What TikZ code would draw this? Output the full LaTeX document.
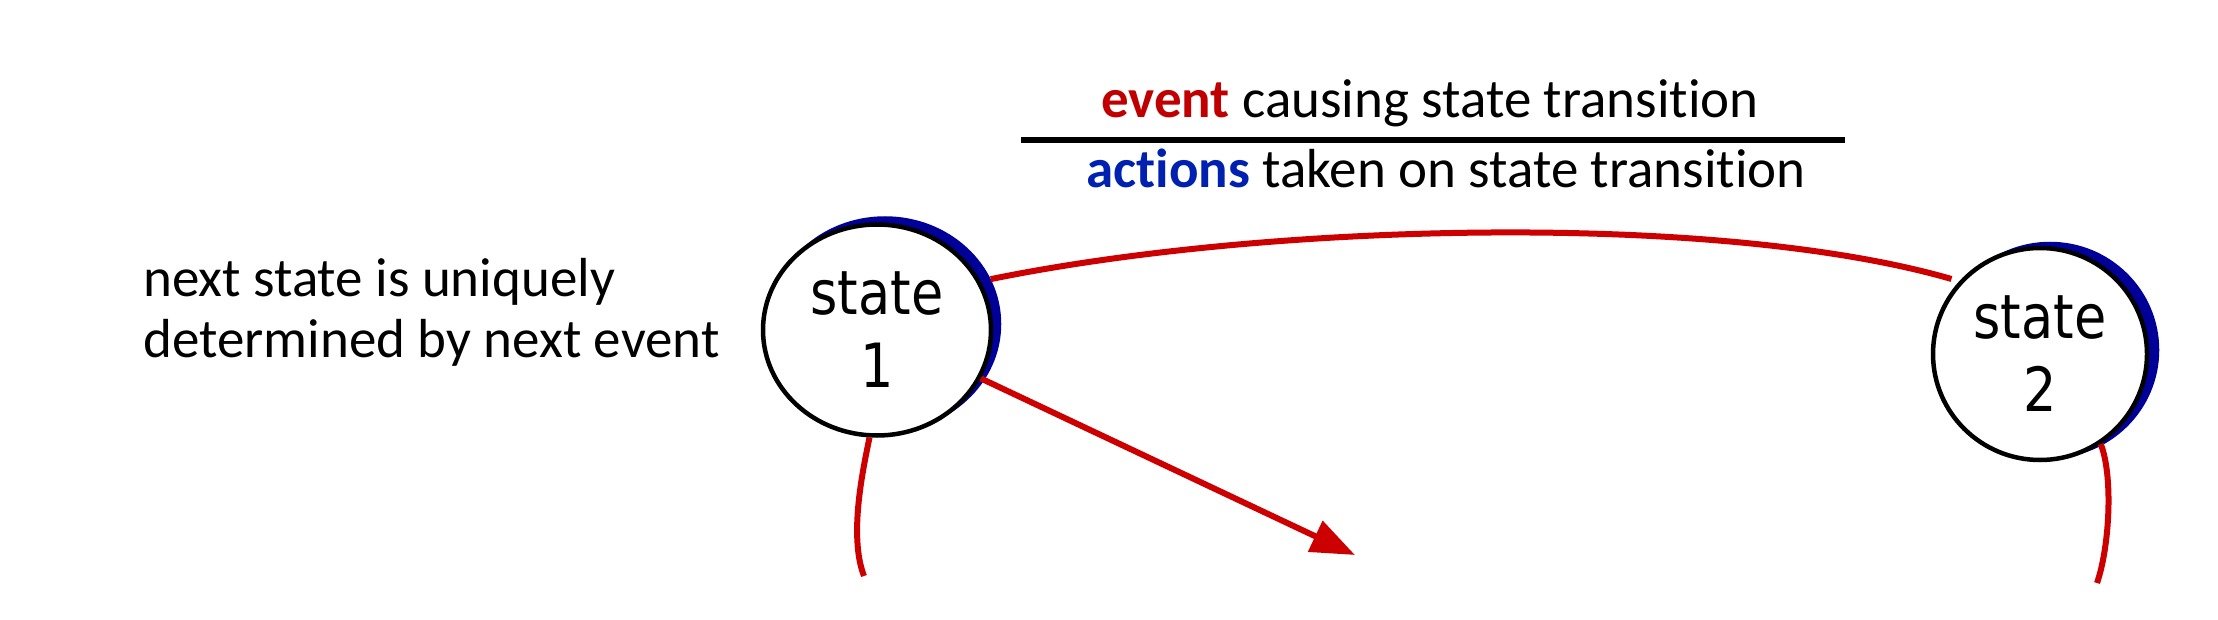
\documentclass[tikz,border=0pt]{standalone}
\usepackage{fontspec}
\setmainfont{Carlito}[Ligatures=NoCommon]
\newfontfamily\statefont[FakeStretch=0.86]{DejaVu Sans}
\usetikzlibrary{arrows.meta,shapes.geometric}
\definecolor{eventred}{RGB}{192,0,0}
\definecolor{actionblue}{RGB}{0,32,176}
\definecolor{shadowblue}{RGB}{0,0,153}
\definecolor{transred}{RGB}{204,0,0}

\begin{document}
\begin{tikzpicture}[x=1pt, y=-1pt,
		statenode/.style={ellipse, draw=black, line width=4.5pt, fill=white, align=center, inner sep=0pt,
			font=\statefont\fontsize{61}{73}\selectfont, execute at begin node=\rule{0pt}{56pt}},
		stateshadow/.style={ellipse, draw=shadowblue, fill=shadowblue, line width=4.5pt},
		trans/.style={draw=transred, line width=6pt},
		note/.style={inner sep=0pt, font=\fontsize{55}{61}\selectfont}]
		\useasboundingbox (0,0) rectangle (2218,620);
		\node[stateshadow, minimum width=228pt, minimum height=211pt] (s1b) at (885,324) {};
		\node[statenode, minimum width=228pt, minimum height=211pt] (s1) at (877,330) {state\\1};
		\node[stateshadow, minimum width=214pt, minimum height=212pt] (s2b) at (2050,350) {};
		\node[statenode, minimum width=214pt, minimum height=212pt] (s2) at (2040,354) {state\\2};
		\node[note, anchor=west, align=left] (rule) at (143,312) {next state is uniquely\\determined by next event};
		\node[note, anchor=base] (ev) at (1430,118) {\textcolor{eventred}{\textbf{event}} causing state transition};
		\draw[line width=6.5pt] (1021,140) -- (1845,140);
		\node[note, anchor=base] (act) at (1446,188) {\textcolor{actionblue}{\textbf{actions}} taken on state transition};
		\coordinate (e1) at (1355,555);
		\coordinate (l1) at (864,576);
		\coordinate (l2) at (2097,583);
		\draw[trans, shorten >=8pt] (s1b.23) .. controls (1270,222) and (1720,212) .. (s2.138);
		\draw[trans, -{Triangle[length=44pt,width=33pt]}] (s1.-25) -- (e1);
		\draw[trans] (s1.-94) .. controls (864,465) and (848,535) .. (l1);
		\draw[trans] (s2.-56) .. controls (2113,475) and (2110,545) .. (l2);
\end{tikzpicture}
\end{document}
